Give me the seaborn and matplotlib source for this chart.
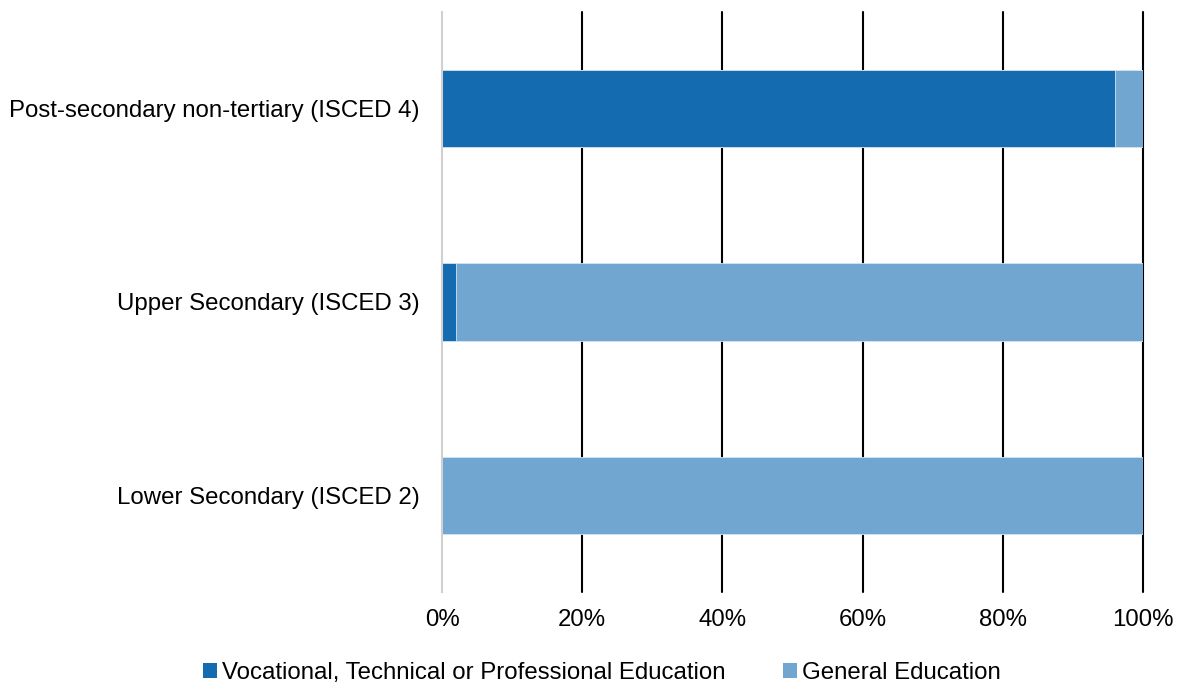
import matplotlib
matplotlib.use("Agg")
import matplotlib.pyplot as plt
import seaborn as sns
import pandas as pd
from matplotlib.patches import Patch
from matplotlib.ticker import PercentFormatter

levels = ["Post-secondary non-tertiary (ISCED 4)",
          "Upper Secondary (ISCED 3)",
          "Lower Secondary (ISCED 2)"]
vocational = [96, 2, 0]
general = [4, 98, 100]
series_names = ["Vocational, Technical or Professional Education", "General Education"]
x_ticks = [0, 20, 40, 60, 80, 100]

dark = "#156BB0"
light = "#71A6D1"

sns.set_theme(style="white")
plt.rcParams["font.family"] = ["Liberation Sans", "DejaVu Sans"]
plt.rcParams["text.color"] = "black"

df = pd.DataFrame({"level": levels, "vocational": vocational, "general": general})
df["total"] = df["vocational"] + df["general"]

fig = plt.figure(figsize=(11.8, 6.82), dpi=100)
ax = fig.add_axes([0.3746, 0.132, 0.594, 0.8504])

sns.barplot(data=df, y="level", x="total", order=levels, color=light,
            width=0.4, orient="h", ax=ax, edgecolor="#D6E4F0", linewidth=0.6,
            saturation=1)
sns.barplot(data=df, y="level", x="vocational", order=levels, color=dark,
            width=0.4, orient="h", ax=ax, edgecolor="#D6E4F0", linewidth=0.6,
            saturation=1)

ax.set_xlim(0, 100)
ax.set_ylim(2.5, -0.5)
ax.set_xticks(x_ticks)
ax.xaxis.set_major_formatter(PercentFormatter(decimals=0))
ax.set_xlabel("")
ax.set_ylabel("")

for v in x_ticks[1:]:
    ax.axvline(v, color="black", linewidth=1.5, zorder=0, clip_on=False)
for side in ["top", "right", "bottom"]:
    ax.spines[side].set_visible(False)
ax.spines["left"].set_color("#D0D0D0")
ax.spines["left"].set_linewidth(1.5)
ax.grid(False)

ax.tick_params(axis="x", labelsize=17.3, labelcolor="black", length=0, pad=12)
ax.tick_params(axis="y", labelsize=17.3, labelcolor="black", length=0, pad=16)

handles = [Patch(facecolor=dark, edgecolor="none"),
           Patch(facecolor=light, edgecolor="none")]
fig.legend(handles, series_names, loc="center", bbox_to_anchor=(0.51, 0.013),
           ncol=2, frameon=False, fontsize=17.3, handlelength=0.6, handleheight=0.6,
           handletextpad=0.2, columnspacing=2.4, labelcolor="black")

fig.savefig("out.png", dpi=100)
